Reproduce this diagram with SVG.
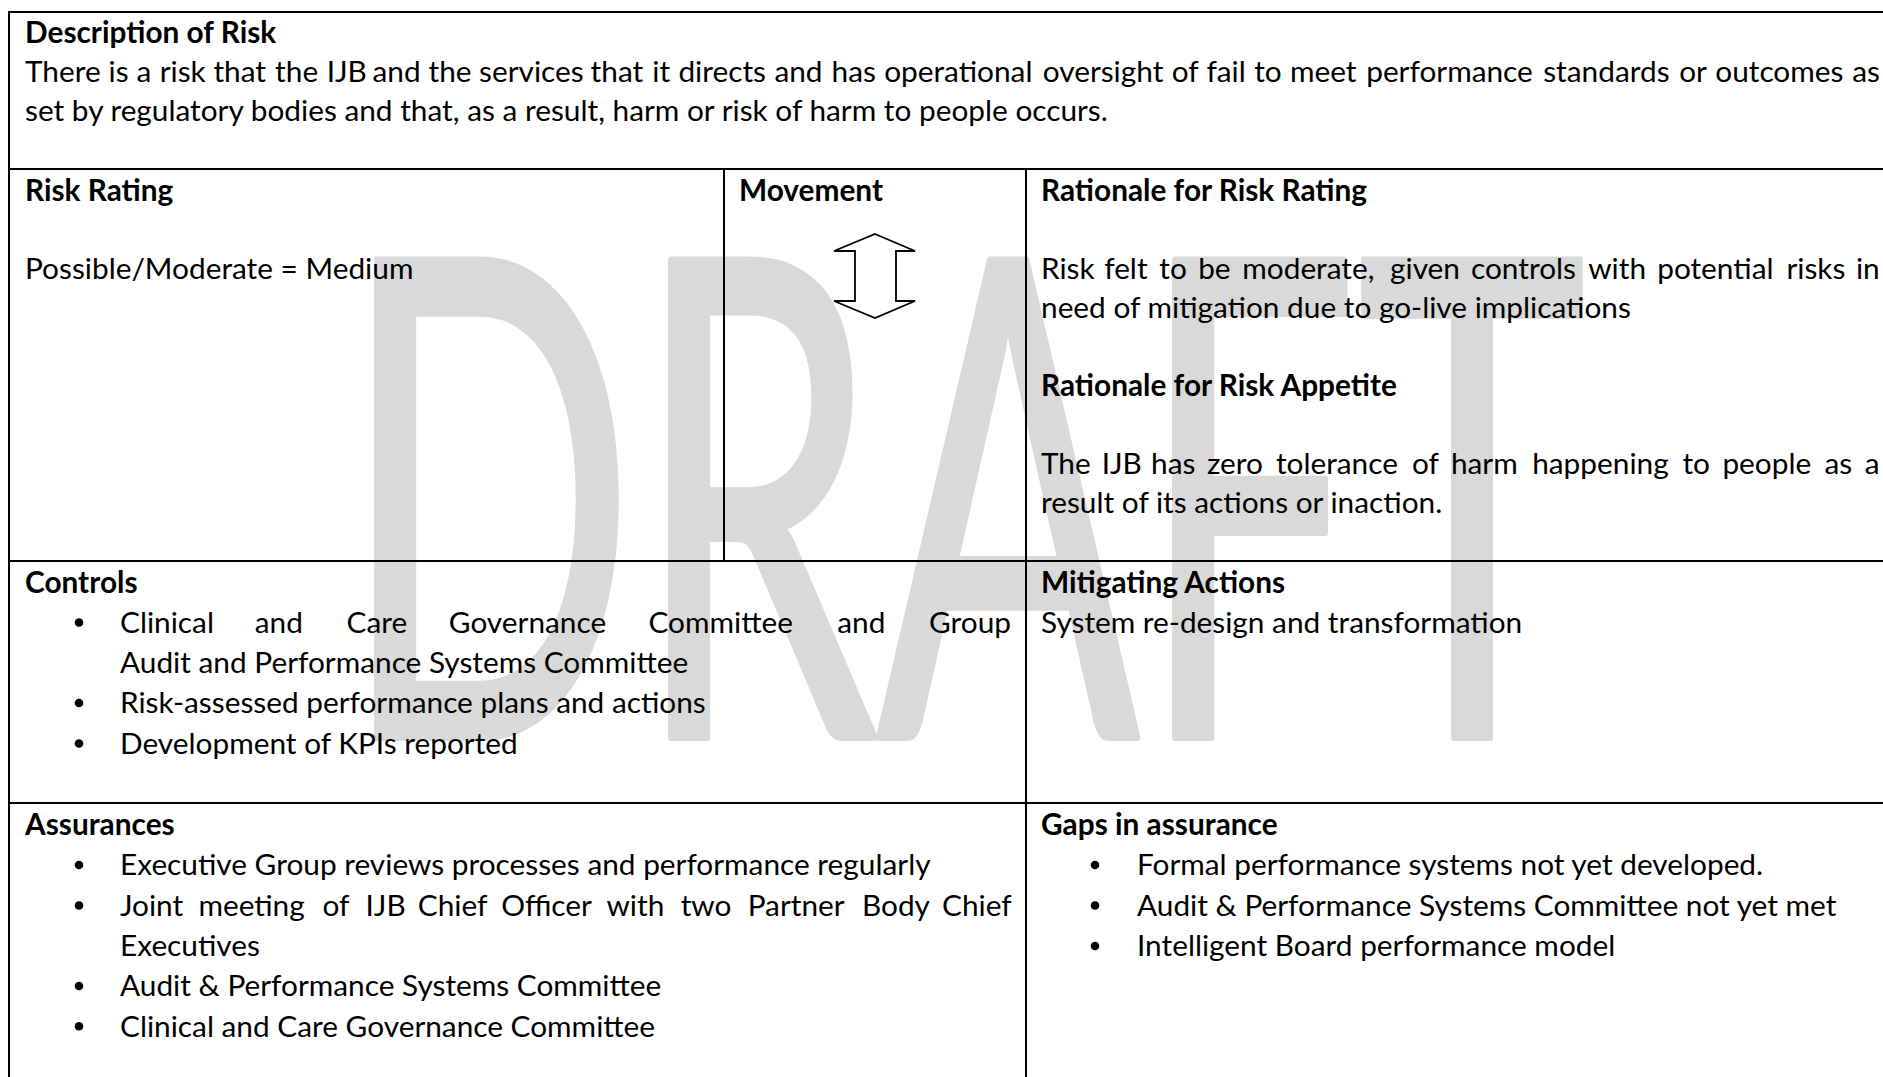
<svg xmlns="http://www.w3.org/2000/svg" width="1883" height="1077" viewBox="0 0 1883 1077">
<style>
.t{font-family:Lato,"Open Sans","Liberation Sans",sans-serif;font-size:29.8px;fill:#000}
.b{font-weight:700}
.grid line{stroke:#000;stroke-width:2}
.wm{font-family:Lato,"Open Sans","Liberation Sans",sans-serif;font-size:665px;font-weight:400;fill:#d9d9d9;stroke:#d9d9d9;stroke-width:8;stroke-linejoin:round}
.bul{fill:#000}
</style>
<defs>
<circle id="dot" r="4.3" class="bul"/>
</defs>
<rect width="1883" height="1077" fill="#fff"/>
<g id="watermark">
<text class="wm" x="341" y="737" textLength="1245" lengthAdjust="spacingAndGlyphs">DRAFT</text>
</g>
<g id="connectors" class="grid">
<line x1="9" y1="12" x2="1883" y2="12"/>
<line x1="9" y1="11" x2="9" y2="1077"/>
<line x1="9" y1="169" x2="1883" y2="169"/>
<line x1="9" y1="561" x2="1883" y2="561"/>
<line x1="9" y1="803" x2="1883" y2="803"/>
<line x1="724" y1="169" x2="724" y2="561"/>
<line x1="1026" y1="169" x2="1026" y2="1077"/>
</g>
<g id="description">
<text class="t b" x="25" y="43">Description of Risk</text>
<text class="t" y="82"><tspan x="25">There </tspan><tspan x="108.5">is </tspan><tspan x="136.4">a </tspan><tspan x="159.7">risk </tspan><tspan x="213.4">that </tspan><tspan x="275.1">the </tspan><tspan x="326.7">IJB </tspan><tspan x="372.5">and </tspan><tspan x="428.5">the </tspan><tspan x="479.1">services </tspan><tspan x="590.6">that </tspan><tspan x="652.3">it </tspan><tspan x="678.4">directs </tspan><tspan x="774.4">and </tspan><tspan x="831.5">has </tspan><tspan x="884.2">operational </tspan><tspan x="1042.8">oversight </tspan><tspan x="1171.8">of </tspan><tspan x="1206.4">fail </tspan><tspan x="1254.2">to </tspan><tspan x="1289.9">meet </tspan><tspan x="1366.2">performance </tspan><tspan x="1543.2">standards </tspan><tspan x="1679.2">or </tspan><tspan x="1715.3">outcomes </tspan><tspan x="1852.2">as</tspan></text>
<text class="t" x="25" y="121">set by regulatory bodies and that, as a result, harm or risk of harm to people occurs.</text>
</g>
<g id="risk-rating">
<text class="t b" x="25" y="201">Risk Rating</text>
<text class="t" x="25" y="279">Possible/Moderate = Medium</text>
</g>
<g id="movement">
<text class="t b" x="739" y="201">Movement</text>
<path d="M875,234 L915,251 L896,251 L896,301 L915,301 L875,318 L834,301 L855,301 L855,251 L834,251 Z" fill="#fff" stroke="#000" stroke-width="1.8" stroke-linejoin="miter"/>
</g>
<g id="rationale">
<text class="t b" x="1041" y="201">Rationale for Risk Rating</text>
<text class="t" y="279"><tspan x="1041">Risk </tspan><tspan x="1104.2">felt </tspan><tspan x="1159.3">to </tspan><tspan x="1198.2">be </tspan><tspan x="1242.3">moderate, </tspan><tspan x="1390">given </tspan><tspan x="1471">controls </tspan><tspan x="1588.2">with </tspan><tspan x="1657.2">potential </tspan><tspan x="1786.4">risks </tspan><tspan x="1855.9">in</tspan></text>
<text class="t" x="1041" y="318">need of mitigation due to go-live implications</text>
<text class="t b" x="1041" y="396">Rationale for Risk Appetite</text>
<text class="t" y="474"><tspan x="1041">The </tspan><tspan x="1101.7">IJB </tspan><tspan x="1151">has </tspan><tspan x="1206.9">zero </tspan><tspan x="1275.9">tolerance </tspan><tspan x="1411.9">of </tspan><tspan x="1450.9">harm </tspan><tspan x="1532.2">happening </tspan><tspan x="1682.4">to </tspan><tspan x="1722.4">people </tspan><tspan x="1824.5">as </tspan><tspan x="1864.7">a</tspan></text>
<text class="t" x="1041" y="513">result of its actions or inaction.</text>
</g>
<g id="controls">
<text class="t b" x="25" y="592.5">Controls</text>
<use href="#dot" x="79" y="622.5"/>
<text class="t" y="632.8"><tspan x="120">Clinical </tspan><tspan x="254.8">and </tspan><tspan x="346.5">Care </tspan><tspan x="448.8">Governance </tspan><tspan x="648.5">Committee </tspan><tspan x="837.3">and </tspan><tspan x="929">Group</tspan></text>
<text class="t" x="120" y="673">Audit and Performance Systems Committee</text>
<use href="#dot" x="79" y="703"/>
<text class="t" x="120" y="713.4">Risk-assessed performance plans and actions</text>
<use href="#dot" x="79" y="743.5"/>
<text class="t" x="120" y="753.7">Development of KPIs reported</text>
</g>
<g id="mitigating-actions">
<text class="t b" x="1041" y="592.5">Mitigating Actions</text>
<text class="t" x="1041" y="632.5">System re-design and transformation</text>
</g>
<g id="assurances">
<text class="t b" x="25" y="835">Assurances</text>
<use href="#dot" x="79" y="865"/>
<text class="t" x="120" y="875.3">Executive Group reviews processes and performance regularly</text>
<use href="#dot" x="79" y="905.5"/>
<text class="t" y="915.6"><tspan x="120">Joint </tspan><tspan x="198.4">meeting </tspan><tspan x="322.4">of </tspan><tspan x="365.5">IJB </tspan><tspan x="417.8">Chief </tspan><tspan x="501.2">Officer </tspan><tspan x="606.4">with </tspan><tspan x="680.7">two </tspan><tspan x="747.7">Partner </tspan><tspan x="862">Body </tspan><tspan x="942">Chief</tspan></text>
<text class="t" x="120" y="955.9">Executives</text>
<use href="#dot" x="79" y="986"/>
<text class="t" x="120" y="996.2">Audit &amp; Performance Systems Committee</text>
<use href="#dot" x="79" y="1026.3"/>
<text class="t" x="120" y="1036.5">Clinical and Care Governance Committee</text>
</g>
<g id="gaps-in-assurance">
<text class="t b" x="1041" y="835">Gaps in assurance</text>
<use href="#dot" x="1095" y="865"/>
<text class="t" x="1137" y="875.3">Formal performance systems not yet developed.</text>
<use href="#dot" x="1095" y="905.5"/>
<text class="t" x="1137" y="915.6">Audit &amp; Performance Systems Committee not yet met</text>
<use href="#dot" x="1095" y="946"/>
<text class="t" x="1137" y="955.9">Intelligent Board performance model</text>
</g>
</svg>
